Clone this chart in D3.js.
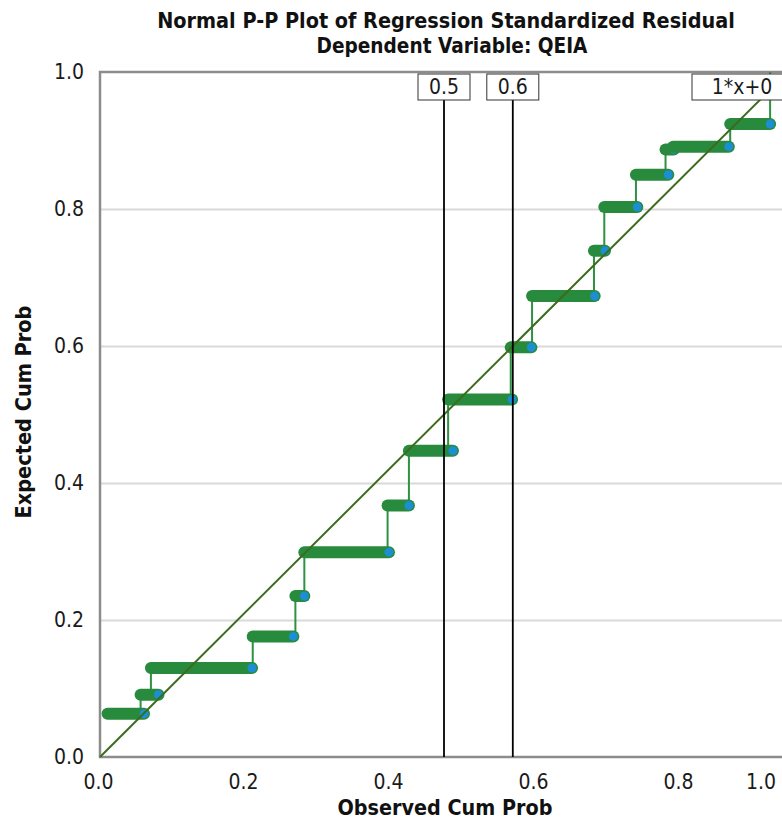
<!DOCTYPE html>
<html>
<head>
<meta charset="utf-8">
<script src="https://cdn.jsdelivr.net/npm/d3@7"></script>
<style>
  body { margin: 0; background: #fff; }
  svg { display: block; }
</style>
</head>
<body>
<div id="chart"></div>
<script>
// runs of tied residuals: observed cum prob start / end, expected cum prob
var obsStart = [0.011, 0.059, 0.074, 0.222, 0.284, 0.297, 0.418, 0.449, 0.506, 0.597, 0.628, 0.718, 0.733, 0.779, 0.822, 0.833, 0.916];
var obsEnd   = [0.064, 0.085, 0.221, 0.281, 0.297, 0.420, 0.449, 0.513, 0.599, 0.627, 0.719, 0.734, 0.781, 0.826, 0.834, 0.914, 0.974];
var expected = [0.063, 0.091, 0.130, 0.176, 0.235, 0.299, 0.367, 0.447, 0.522, 0.598, 0.673, 0.739, 0.803, 0.850, 0.887, 0.891, 0.924];
var refLines = [0.5, 0.6];
var refLabels = ['0.5', '0.6'];
var fitLabel = '1*x+0';
var tickValues = [0, 0.2, 0.4, 0.6, 0.8, 1.0];
var titleLines = ['Normal P-P Plot of Regression Standardized Residual', 'Dependent Variable: QEIA'];
var xTitle = 'Observed Cum Prob';
var yTitle = 'Expected Cum Prob';

var svgWidth = 782;
var svgHeight = 821;
var margin = { top: 72, left: 100, bottom: 64 };
var plotW = 688;
var plotH = svgHeight - margin.top - margin.bottom;

var green = '#288a3d';
var blue = '#1b8fd2';
var labelFont = 'DejaVu Sans Condensed';

var svg = d3.select('#chart')
  .append('svg')
  .attr('width', svgWidth)
  .attr('height', svgHeight);

var x = d3.scaleLinear().domain([0, 1]).range([margin.left, margin.left + plotW]);
var y = d3.scaleLinear().domain([0, 1]).range([margin.top + plotH, margin.top]);
// tick labels sit on a slightly wider spacing than the data in the original
var xLabel = d3.scaleLinear().domain([0, 1]).range([98, 823]);

// shrink/grow a text so it takes the width it has in the picture
function fitWidth(sel, w) {
  sel.each(function () {
    var len = this.getComputedTextLength();
    var fs = parseFloat(d3.select(this).attr('font-size'));
    d3.select(this).attr('font-size', (fs * w / len).toFixed(2));
  });
}

// gridlines
var grid = svg.append('g')
  .attr('transform', 'translate(' + margin.left + ',0)')
  .call(d3.axisLeft(y).tickValues([0.2, 0.4, 0.6, 0.8]).tickSize(-plotW).tickFormat(''));
grid.select('.domain').remove();
grid.selectAll('line').attr('stroke', '#d9d9d9').attr('stroke-width', 2);

// frame: left, bottom, top
svg.append('path')
  .attr('d', 'M' + svgWidth + ',' + y(1) + 'H' + x(0) + 'V' + y(0) + 'H' + svgWidth)
  .attr('fill', 'none')
  .attr('stroke', '#8c8c8c')
  .attr('stroke-width', 2.5);

// y tick labels
var yAxisG = svg.append('g')
  .attr('transform', 'translate(' + (margin.left - 10) + ',0)')
  .call(d3.axisLeft(y).tickValues(tickValues).tickSize(0).tickFormat(d3.format('.1f')));
yAxisG.select('.domain').remove();
yAxisG.selectAll('text')
  .attr('font-family', labelFont)
  .attr('font-size', 21)
  .attr('fill', '#1a1a1a')
  .attr('x', -6);

// x tick labels
var xAxisG = svg.append('g')
  .attr('transform', 'translate(0,' + (y(0) + 14) + ')')
  .call(d3.axisBottom(xLabel).tickValues(tickValues).tickSize(0).tickFormat(d3.format('.1f')));
xAxisG.select('.domain').remove();
xAxisG.selectAll('text')
  .attr('font-family', labelFont)
  .attr('font-size', 21)
  .attr('fill', '#1a1a1a');
// last label is pulled back inside the picture
xAxisG.selectAll('.tick').filter(function (d) { return d === 1; })
  .attr('transform', 'translate(776,0)')
  .select('text').attr('text-anchor', 'end');

// thin connecting line through every run
var pts = [];
obsStart.forEach(function (s, i) {
  if (i > 0) pts.push([s, expected[i - 1]]);
  pts.push([s, expected[i]]);
  pts.push([obsEnd[i], expected[i]]);
});
pts.push([obsEnd[obsEnd.length - 1], 1]);

svg.append('path')
  .datum(pts)
  .attr('d', d3.line().x(function (d) { return x(d[0]); }).y(function (d) { return y(d[1]); }))
  .attr('fill', 'none')
  .attr('stroke', '#2f9142')
  .attr('stroke-width', 2);

// thick runs, each followed by its end point
obsStart.forEach(function (s, i) {
  svg.append('line')
    .attr('x1', x(s)).attr('x2', x(obsEnd[i]))
    .attr('y1', y(expected[i])).attr('y2', y(expected[i]))
    .attr('stroke', green)
    .attr('stroke-width', 12)
    .attr('stroke-linecap', 'round');
  svg.append('circle')
    .attr('cx', x(obsEnd[i]))
    .attr('cy', y(expected[i]))
    .attr('r', 4.5)
    .attr('fill', blue);
});

// y = x reference
svg.append('line')
  .attr('x1', x(0)).attr('y1', y(0))
  .attr('x2', x(1)).attr('y2', y(1))
  .attr('stroke', '#3c6b1d')
  .attr('stroke-width', 2);

// vertical reference lines with their labels
var boxTop = 74, boxH = 26;
refLines.forEach(function (v, i) {
  svg.append('line')
    .attr('x1', x(v)).attr('x2', x(v))
    .attr('y1', boxTop + boxH).attr('y2', y(0))
    .attr('stroke', '#000')
    .attr('stroke-width', 1.8);
  svg.append('rect')
    .attr('x', x(v) - 26).attr('y', boxTop)
    .attr('width', 52).attr('height', boxH)
    .attr('fill', '#fff')
    .attr('stroke', '#333')
    .attr('stroke-width', 1);
  svg.append('text')
    .attr('x', x(v)).attr('y', boxTop + 20)
    .attr('text-anchor', 'middle')
    .attr('font-family', labelFont)
    .attr('font-size', 21)
    .attr('fill', '#1a1a1a')
    .text(refLabels[i]);
});

svg.append('rect')
  .attr('x', 692).attr('y', boxTop)
  .attr('width', 100).attr('height', boxH)
  .attr('fill', '#fff')
  .attr('stroke', '#333')
  .attr('stroke-width', 1);
svg.append('text')
  .attr('x', 742).attr('y', boxTop + 20)
  .attr('text-anchor', 'middle')
  .attr('font-family', labelFont)
  .attr('font-size', 21)
  .attr('fill', '#1a1a1a')
  .text(fitLabel);

// titles
function boldText(tx, ty, str, w) {
  return svg.append('text')
    .attr('x', tx).attr('y', ty)
    .attr('text-anchor', 'middle')
    .attr('font-family', labelFont)
    .attr('font-weight', 'bold')
    .attr('font-size', 20)
    .attr('fill', '#111')
    .text(str)
    .call(fitWidth, w);
}
boldText(446, 28, titleLines[0], 578);
boldText(452, 53, titleLines[1], 271);
boldText(445, 815, xTitle, 215);
boldText(0, 0, yTitle, 213)
  .attr('transform', 'translate(31,412) rotate(-90)');
</script>
</body>
</html>
